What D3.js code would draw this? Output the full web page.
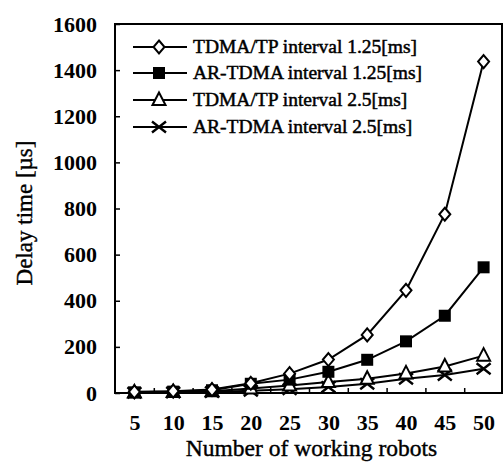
<!DOCTYPE html>
<html>
<head>
<meta charset="utf-8">
<script src="https://cdn.jsdelivr.net/npm/d3@7"></script>
<style>
  body { margin: 0; background: #fff; }
  text { font-family: "Liberation Serif", "DejaVu Serif", serif; fill: #000; }
</style>
</head>
<body>
<div id="chart"></div>
<script>
var robots = [5, 10, 15, 20, 25, 30, 35, 40, 45, 50];
var tdmaTp125 = [5, 8, 15, 42, 84, 145, 252, 445, 775, 1437];
var arTdma125 = [3, 6, 12, 40, 58, 92, 144, 224, 335, 545];
var tdmaTp25 = [2, 4, 8, 20, 32, 48, 62, 85, 115, 162];
var arTdma25 = [1, 2, 4, 10, 16, 26, 40, 62, 78, 105];
var seriesNames = ["TDMA/TP interval 1.25[ms]", "AR-TDMA interval 1.25[ms]", "TDMA/TP interval 2.5[ms]", "AR-TDMA interval 2.5[ms]"];
var yTicks = [0, 200, 400, 600, 800, 1000, 1200, 1400, 1600];

var width = 504, height = 463;
var margin = { top: 24, right: 1, bottom: 70, left: 115 };

var svg = d3.select("#chart").append("svg")
    .attr("width", width)
    .attr("height", height);

var x = d3.scaleLinear()
    .domain([2.5, 52.5])
    .range([margin.left, width - margin.right]);

var y = d3.scaleLinear()
    .domain([0, 1600])
    .range([height - margin.bottom, margin.top]);

// frame
svg.append("rect")
    .attr("x", margin.left)
    .attr("y", margin.top)
    .attr("width", width - margin.right - margin.left - 1)
    .attr("height", height - margin.bottom - margin.top)
    .attr("fill", "none")
    .attr("stroke", "#000")
    .attr("stroke-width", 2);

// y axis, inward ticks
var yAxis = svg.append("g")
    .attr("transform", "translate(" + margin.left + ",0)")
    .call(d3.axisLeft(y).tickValues(yTicks).tickFormat(d3.format("d"))
        .tickSizeInner(-5).tickSizeOuter(0).tickPadding(18));
yAxis.select(".domain").remove();
yAxis.selectAll("line").attr("stroke-width", 1.5);
yAxis.selectAll("text")
    .style("font-size", "22px")
    .style("font-weight", "bold")
    .style("font-family", "Liberation Serif");

// x axis labels
var xAxis = svg.append("g")
    .attr("transform", "translate(0," + y(0) + ")")
    .call(d3.axisBottom(x).tickValues(robots).tickSize(0).tickPadding(21));
xAxis.select(".domain").remove();
xAxis.selectAll("text")
    .style("font-size", "22px")
    .style("font-weight", "bold")
    .style("font-family", "Liberation Serif");

// x boundary ticks (inward)
var bounds = robots.slice(0, -1).map(function (d) { return d + 2.5; });
var xTickG = svg.append("g")
    .attr("transform", "translate(0," + y(0) + ")")
    .call(d3.axisTop(x).tickValues(bounds).tickSize(5).tickFormat(""));
xTickG.select(".domain").remove();
xTickG.selectAll("line").attr("stroke-width", 1.5);

// axis titles
svg.append("text")
    .attr("x", (margin.left + width) / 2 + 2)
    .attr("y", 456)
    .attr("text-anchor", "middle")
    .style("font-size", "23.5px")
    .style("stroke", "#000")
    .style("stroke-width", 0.4)
    .text("Number of working robots");

svg.append("text")
    .attr("transform", "translate(32,213) rotate(-90)")
    .attr("text-anchor", "middle")
    .style("font-size", "23px")
    .style("stroke", "#000")
    .style("stroke-width", 0.4)
    .text("Delay time [\u00b5s]");

// markers
function drawMarker(g, type) {
    if (type === 0) {
        g.append("path").attr("d", "M0,-6.5L5.5,0L0,6.5L-5.5,0Z")
            .attr("fill", "#fff").attr("stroke", "#000").attr("stroke-width", 2);
    } else if (type === 1) {
        g.append("rect").attr("x", -6).attr("y", -6).attr("width", 12).attr("height", 12)
            .attr("fill", "#000");
    } else if (type === 2) {
        g.append("path").attr("d", "M0,-7.5L6.5,5L-6.5,5Z")
            .attr("fill", "#fff").attr("stroke", "#000").attr("stroke-width", 2);
    } else {
        g.append("path").attr("d", "M-7,-5.5L7,5.5M-7,5.5L7,-5.5")
            .attr("fill", "none").attr("stroke", "#000").attr("stroke-width", 2.4);
    }
}

var allSeries = [tdmaTp125, arTdma125, tdmaTp25, arTdma25];
var line = d3.line()
    .x(function (d, i) { return x(robots[i]); })
    .y(function (d) { return y(d); });

// draw from lowest to highest so upper markers sit on top
[3, 2, 1, 0].forEach(function (s) {
    svg.append("path")
        .datum(allSeries[s])
        .attr("d", line)
        .attr("fill", "none")
        .attr("stroke", "#000")
        .attr("stroke-width", 2);
});
[3, 2, 1, 0].forEach(function (s) {
    allSeries[s].forEach(function (v, i) {
        var g = svg.append("g")
            .attr("transform", "translate(" + x(robots[i]) + "," + y(v) + ")");
        drawMarker(g, s);
    });
});

// legend
var legendY = [47, 73, 100, 127];
seriesNames.forEach(function (name, s) {
    var g = svg.append("g").attr("transform", "translate(0," + legendY[s] + ")");
    g.append("line")
        .attr("x1", 133).attr("x2", 187)
        .attr("y1", 0).attr("y2", 0)
        .attr("stroke", "#000").attr("stroke-width", 2);
    drawMarker(g.append("g").attr("transform", "translate(159,0)"), s);
    g.append("text")
        .attr("x", 193)
        .attr("y", 6)
        .style("font-size", "19.5px")
        .style("stroke", "#000")
        .style("stroke-width", 0.5)
        .text(name);
});
</script>
</body>
</html>
